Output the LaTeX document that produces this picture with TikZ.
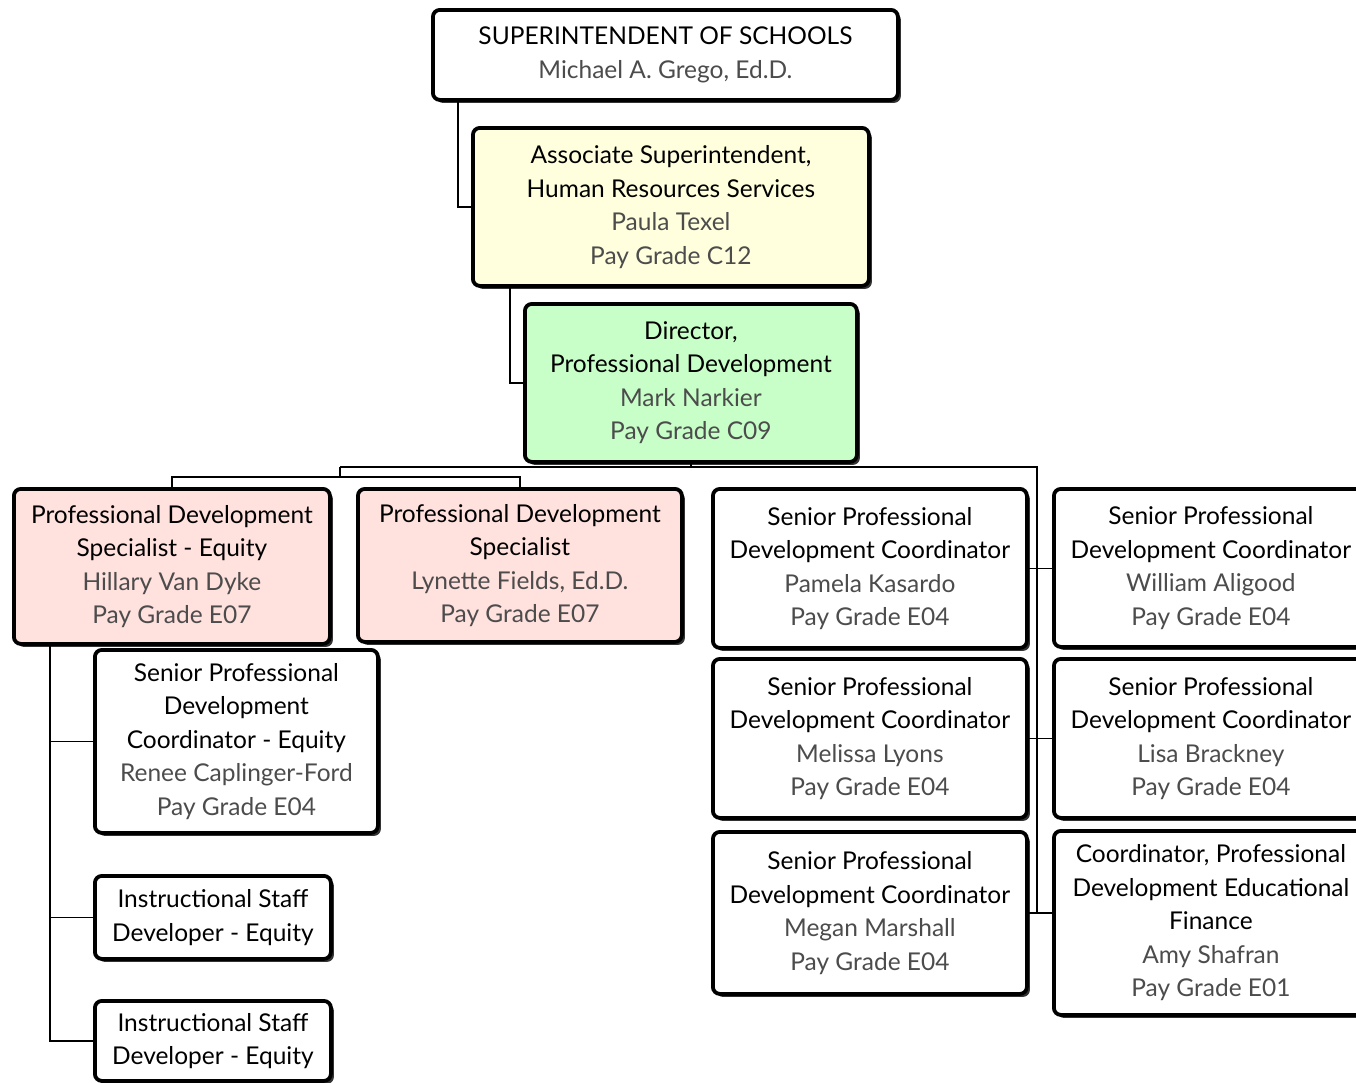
\documentclass[tikz,border=0pt]{standalone}
\usepackage{fontspec}
\setmainfont{Lato}
\usetikzlibrary{shadows}

\definecolor{assocfill}{RGB}{255,255,222}
\definecolor{dirfill}{RGB}{200,255,200}
\definecolor{specfill}{RGB}{255,225,222}
\newcommand{\staffname}[1]{{\color{black!70}#1}}

\begin{document}
\begin{tikzpicture}[x=1pt, y=-1pt,
   post/.style={draw, line width=3.8pt, rounded corners=7pt, fill=white, align=center,
     anchor=north west, inner sep=0pt, font=\fontsize{24.5}{33.5}\selectfont,
     drop shadow={shadow xshift=3pt, shadow yshift=-3pt, opacity=1, fill=black!80}},
   link/.style={draw, line width=1.8pt}]
   \useasboundingbox (0,0) rectangle (1356,1082);

   % draw top of the chart
   \node[post, minimum width=465, minimum height=90] (super) at (431,8)
     {SUPERINTENDENT OF SCHOOLS\\ \staffname{Michael A. Grego, Ed.D.}};
   \node[post, fill=assocfill, minimum width=396, minimum height=158] (assoc) at (471,126)
     {Associate Superintendent,\\ Human Resources Services\\ \staffname{Paula Texel}\\ \staffname{Pay Grade C12}};
   \node[post, fill=dirfill, minimum width=332, minimum height=158] (dir) at (523,302)
     {Director,\\ Professional Development\\ \staffname{Mark Narkier}\\ \staffname{Pay Grade C09}};

   % draw specialists
   \node[post, fill=specfill, minimum width=316, minimum height=155] (pdse) at (12,487)
     {Professional Development\\ Specialist - Equity\\ \staffname{Hillary Van Dyke}\\ \staffname{Pay Grade E07}};
   \node[post, fill=specfill, minimum width=324, minimum height=153] (pds) at (356,487)
     {Professional Development\\ Specialist\\ \staffname{Lynette Fields, Ed.D.}\\ \staffname{Pay Grade E07}};

   % draw equity team
   \node[post, minimum width=283, minimum height=183] (ren) at (93,648)
     {Senior Professional\\ Development\\ Coordinator - Equity\\ \staffname{Renee Caplinger-Ford}\\ \staffname{Pay Grade E04}};
   \node[post, minimum width=236, minimum height=83] (isd1) at (93,874)
     {Instructional Staff\\ Developer - Equity};
   \node[post, minimum width=236, minimum height=80] (isd2) at (93,999)
     {Instructional Staff\\ Developer - Equity};

   % draw coordinators
   \node[post, minimum width=314, minimum height=159] (pam) at (711,487)
     {Senior Professional\\ Development Coordinator\\ \staffname{Pamela Kasardo}\\ \staffname{Pay Grade E04}};
   \node[post, minimum width=314, minimum height=159] (mel) at (711,657)
     {Senior Professional\\ Development Coordinator\\ \staffname{Melissa Lyons}\\ \staffname{Pay Grade E04}};
   \node[post, minimum width=314, minimum height=162] (meg) at (711,830)
     {Senior Professional\\ Development Coordinator\\ \staffname{Megan Marshall}\\ \staffname{Pay Grade E04}};
   \node[post, minimum width=314, minimum height=158] (wil) at (1052,487)
     {Senior Professional\\ Development Coordinator\\ \staffname{William Aligood}\\ \staffname{Pay Grade E04}};
   \node[post, minimum width=314, minimum height=159] (lis) at (1052,657)
     {Senior Professional\\ Development Coordinator\\ \staffname{Lisa Brackney}\\ \staffname{Pay Grade E04}};
   \node[post, minimum width=314, minimum height=184] (amy) at (1052,829)
     {Coordinator, Professional\\ Development Educational\\ Finance\\ \staffname{Amy Shafran}\\ \staffname{Pay Grade E01}};

   % draw connectors
   \draw[link] ([xshift=27pt]super.south west) |- (assoc.west);
   \draw[link] ([xshift=39pt]assoc.south west) |- (dir.west);
   \coordinate (split) at (340,467);
   \coordinate (rbus) at (1037,467);
   \draw[link] (dir.south) |- (split);
   \draw[link] (dir.south |- split) -- (rbus) -- (rbus |- meg.east);
   \draw[link] (split) -- ++(0,10) coordinate (lsplit);
   \draw[link] (pdse.north) |- (lsplit) -| (pds.north);
   \foreach \l/\r in {pam/wil, mel/lis, meg/amy}
     \draw[link] (\l.east) -- (\l.east -| \r.west);
   \coordinate (chain) at ([xshift=38pt]pdse.south west);
   \draw[link] (chain) |- (isd2.west);
   \foreach \n in {ren, isd1}
     \draw[link] (\n.west) -- (\n.west -| chain);
\end{tikzpicture}
\end{document}
